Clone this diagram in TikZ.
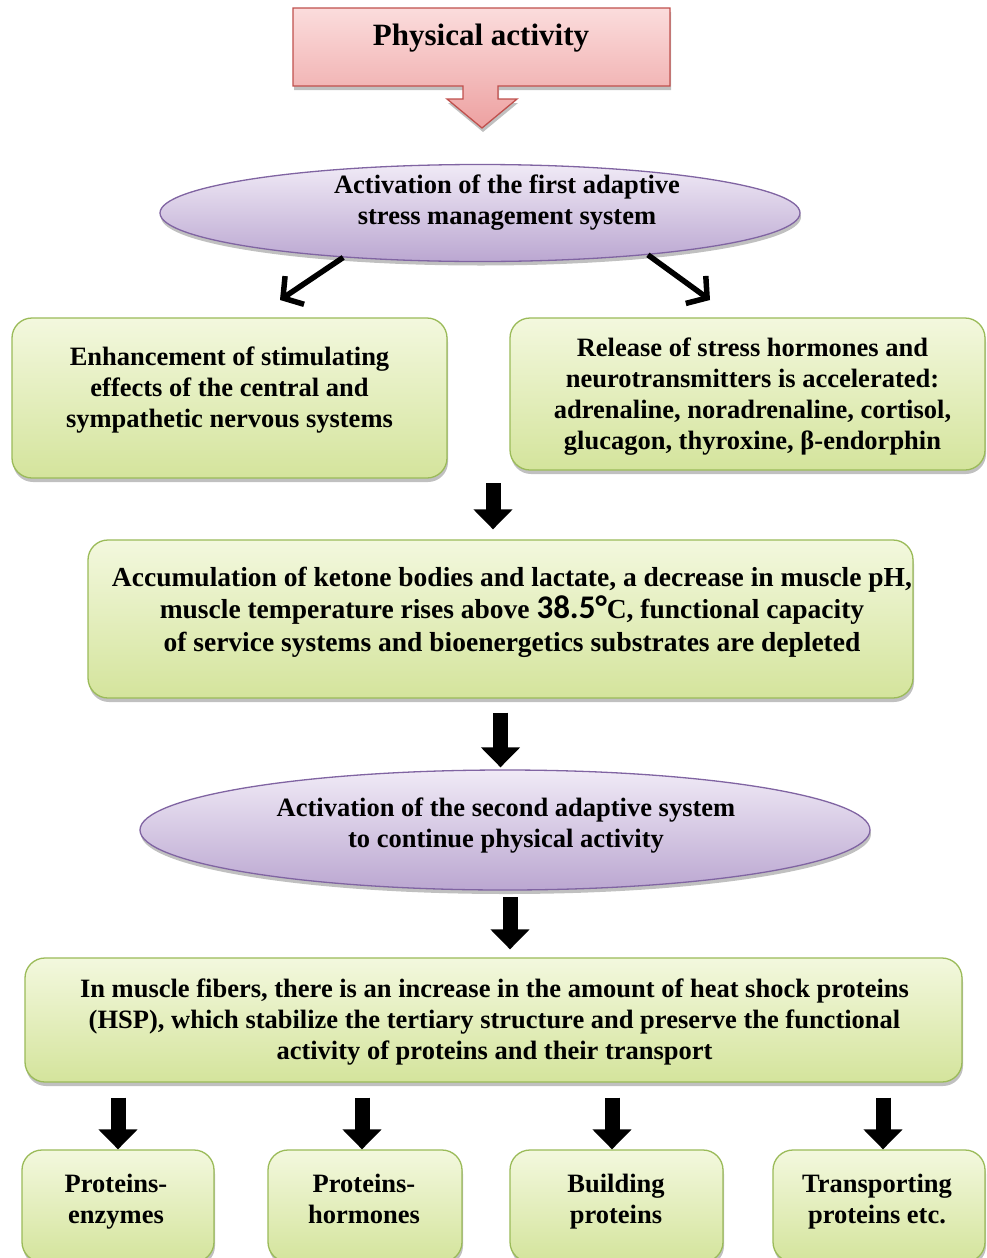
\documentclass[tikz,border=0pt]{standalone}
\usepackage{fontspec}
\setmainfont{Liberation Serif}
\newfontfamily\numfont{Carlito}
\usetikzlibrary{shapes.geometric,arrows.meta,shadows,calc}
\definecolor{gtop}{HTML}{F3F8DE}
\definecolor{gbot}{HTML}{D4E49C}
\definecolor{gborder}{HTML}{9BBB59}
\definecolor{ptop}{HTML}{FBDCDC}
\definecolor{pbot}{HTML}{EDA1A1}
\definecolor{pborder}{HTML}{C0504D}
\definecolor{etop}{HTML}{F0EAF6}
\definecolor{ebot}{HTML}{BBA7D1}
\definecolor{eborder}{HTML}{8064A2}
\newcommand\txtfont{\fontsize{26.5}{31}\selectfont\bfseries}
\newcommand\midfont{\fontsize{27.5}{32.5}\selectfont\bfseries}
\newcommand\bignum[1]{{\numfont\fontsize{33}{32}\selectfont\bfseries #1}}
\tikzset{
  shad/.style={drop shadow={shadow xshift=1pt,shadow yshift=-4pt,opacity=.35,fill=black!70}},
  greenbox/.style={draw=gborder,line width=1.3pt,rounded corners=20pt,top color=gtop,bottom color=gbot,shad,inner sep=0pt},
  purpleell/.style={ellipse,draw=eborder,line width=1.3pt,top color=etop,bottom color=ebot,shad,inner sep=0pt},
  txt/.style={align=center,font=\txtfont,inner sep=0pt},
  blockarrow/.style={line width=15pt,-{Triangle[length=20pt,width=38pt]}},
  thinarrow/.style={line width=5.5pt,-{Straight Barb[length=14pt,width=34pt]}},
}
\begin{document}
\begin{tikzpicture}[x=1pt,y=-1pt]
\path[use as bounding box,clip] (0,0) rectangle (987,1258);
\fill[white] (0,0) rectangle (987,1258);
% pink callout
\path[draw=pborder,line width=1.3pt,top color=ptop,bottom color=pbot,shad]
  (293,8) -- (670,8) -- (670,86) -- (498,86) -- (498,99) -- (517,99) -- (482,128)
  -- (447,99) -- (463,99) -- (463,86) -- (293,86) -- cycle;
\node[font=\fontsize{31}{32}\selectfont\bfseries] (pa) at (481,38) {Physical activity};
% ellipse 1
\node[purpleell,minimum width=640,minimum height=97] (ell1) at (480,213) {};
\node[txt] (ell1t) at (507,203) {Activation of the first adaptive\\stress management system};
% two boxes
\node[greenbox,minimum width=435,minimum height=160] (lb) at (229.5,398) {};
\node[txt] (lbt) at (229.5,390) {Enhancement of stimulating\\effects of the central and\\sympathetic nervous systems};
\node[greenbox,minimum width=475,minimum height=152] (rb) at (747.5,394) {};
\node[txt] (rbt) at (752.5,397) {Release of stress hormones and\\neurotransmitters is accelerated:\\adrenaline, noradrenaline, cortisol,\\glucagon, thyroxine, β-endorphin};
\coordinate (tipL) at (280,300);
\coordinate (tipR) at (710,300);
\draw[thinarrow] (ell1.198) -- (tipL);
\draw[thinarrow] (ell1.-14) -- (tipR);
% middle box
\node[greenbox,minimum width=825,minimum height=158] (mb) at (500.5,619) {};
\node[txt,font=\midfont] (mbt) at (512,612)
  {Accumulation of ketone bodies and lactate, a decrease in muscle pH,\\
   muscle temperature rises above \bignum{38.5°}C, functional capacity\\
   of service systems and bioenergetics substrates are depleted};
\coordinate (b1s) at (493,483);
\draw[blockarrow,shorten >=10pt] (b1s) -- (b1s |- mb.north);
% ellipse 2
\node[purpleell,minimum width=730,minimum height=120] (ell2) at (505,830) {};
\node[txt] (ell2t) at (506,826) {Activation of the second adaptive system\\to continue physical activity};
\draw[blockarrow,shorten <=14pt,shorten >=2pt] (mb.south) -- (mb.south |- ell2.north);
% big box
\node[greenbox,minimum width=937,minimum height=124] (big) at (493.5,1020) {};
\node[txt] (bigt) at (494.5,1022)
  {In muscle fibers, there is an increase in the amount of heat shock proteins\\
   (HSP), which stabilize the tertiary structure and preserve the functional\\
   activity of proteins and their transport};
\coordinate (b3s) at (510,897);
\draw[blockarrow,shorten >=8pt] (b3s) -- (b3s |- big.north);
% bottom boxes
\node[greenbox,minimum width=192,minimum height=112] (p1) at (118,1206) {};
\node[greenbox,minimum width=194,minimum height=112] (p2) at (365,1206) {};
\node[greenbox,minimum width=213,minimum height=112] (p3) at (616.5,1206) {};
\node[greenbox,minimum width=212,minimum height=112] (p4) at (879,1206) {};
\node[txt] (p1t) at (116,1202) {\strut Proteins-\\\strut enzymes};
\node[txt] (p2t) at (364,1202) {\strut Proteins-\\\strut hormones};
\node[txt] (p3t) at (616,1202) {\strut Building\\\strut proteins};
\node[txt] (p4t) at (877,1202) {\strut Transporting\\\strut proteins etc.};
\foreach \p/\x in {p1/118,p2/362,p3/612,p4/883}{
  \draw[blockarrow,shorten <=15pt] (\x,0 |- big.south) -- (\x,0 |- \p.north);
}
\end{tikzpicture}
\end{document}
